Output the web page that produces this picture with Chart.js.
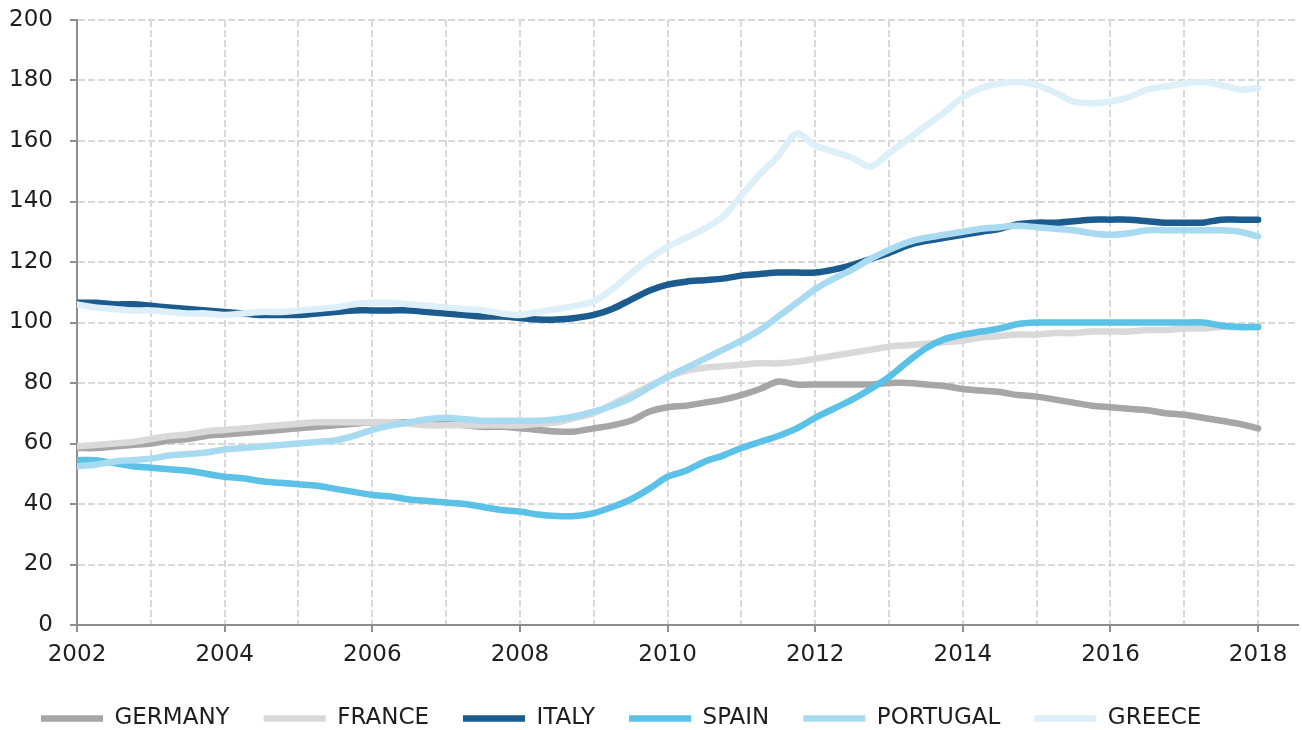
<!DOCTYPE html>
<html>
<head>
<meta charset="utf-8">
<script src="https://cdn.jsdelivr.net/npm/chart.js@4.4.1/dist/chart.umd.min.js"></script>
<style>
    html, body { margin: 0; padding: 0; background: #fff; overflow: hidden; }
    #wrap { width: 1302px; height: 730px; overflow: hidden; }
</style>
</head>
<body>
<div id="wrap"><canvas id="debtChart" width="1302" height="740"></canvas></div>
<script>
// quarterly values, 2002 Q1 .. 2018 Q1
var germany = [
    58.5, 58.5, 59, 59.5,   60, 61, 61.5, 62.5,   63, 63.5, 64, 64.5,   65, 65.5, 66, 66.5,
    67, 67, 67, 66.5,       66.5, 66, 65.5, 65.5, 65, 64.5, 64, 64,   65, 66, 67.5, 70.5,
    72, 72.5, 73.5, 74.5,   76, 78, 80.5, 79.5,   79.5, 79.5, 79.5, 79.5, 80, 80, 79.5, 79,
    78, 77.5, 77, 76,       75.5, 74.5, 73.5, 72.5, 72, 71.5, 71, 70,  69.5, 68.5, 67.5, 66.5,
    65
];
var france = [
    59, 59.5, 60, 60.5,     61.5, 62.5, 63, 64,   64.5, 65, 65.5, 66,   66.5, 67, 67, 67,
    67, 67, 66.5, 66,       66, 66, 66, 66,       66, 66.5, 67, 68.5,   70, 73, 76, 79,
    82, 84, 85, 85.5,       86, 86.5, 86.5, 87,   88, 89, 90, 91,       92, 92.5, 93, 93.5,
    94, 95, 95.5, 96,       96, 96.5, 96.5, 97,   97, 97, 97.5, 97.5,   98, 98, 98.5, 98.5,
    98.5
];
var italy = [
    106.5, 106.5, 106, 106, 105.5, 105, 104.5, 104, 103.5, 103, 102.5, 102.5, 102.5, 103, 103.5, 104,
    104, 104, 104, 103.5,   103, 102.5, 102, 102, 101.5, 101, 101, 101.5, 102.5, 104.5, 107.5, 110.5,
    112.5, 113.5, 114, 114.5, 115.5, 116, 116.5, 116.5, 116.5, 117.5, 119, 121, 123, 125.5, 127, 128,
    129, 130, 131, 132.5,   133, 133, 133.5, 134, 134, 134, 133.5, 133, 133, 133, 134, 134,
    134
];
var spain = [
    54.5, 54.5, 53.5, 52.5, 52, 51.5, 51, 50,     49, 48.5, 47.5, 47,   46.5, 46, 45, 44,
    43, 42.5, 41.5, 41,     40.5, 40, 39, 38,     37.5, 36.5, 36, 36,   37, 39, 41.5, 45,
    49, 51, 54, 56,         58.5, 60.5, 62.5, 65, 68.5, 71.5, 74.5, 78, 82, 87, 91.5, 94.5,
    96, 97, 98, 99.5,       100, 100, 100, 100,   100, 100, 100, 100,   100, 100, 99, 98.5,
    98.5
];
var portugal = [
    52.5, 53, 54, 54.5,     55, 56, 56.5, 57,     58, 58.5, 59, 59.5,   60, 60.5, 61, 62.5,
    64.5, 66, 67, 68,       68.5, 68, 67.5, 67.5, 67.5, 67.5, 68, 69,   70.5, 72.5, 75, 78.5,
    82, 85, 88, 91,         94, 97.5, 102, 106.5, 111, 114.5, 117.5, 121, 124, 126.5, 128, 129,
    130, 131, 131.5, 132,   131.5, 131, 130.5, 129.5, 129, 129.5, 130.5, 130.5, 130.5, 130.5, 130.5, 130,
    128.5
];
var greece = [
    106, 105, 104.5, 104,   104, 103.5, 103, 103, 102.5, 103, 103.5, 103.5, 104, 104.5, 105, 106,
    106.5, 106.5, 106, 105.5, 105, 104.5, 104, 103, 102.5, 103.5, 104.5, 105.5, 107, 111, 116, 121,
    125, 128, 131, 135,     142, 149, 155, 162.5, 158.5, 156.5, 154.5, 151.5, 156, 160.5, 165, 169.5,
    174.5, 177.5, 179, 179.5, 178.5, 176, 173, 172.5, 173, 174.5, 177, 178, 179, 179.5, 178.5, 177,
    177.5
];
var startYear = 2002;
var quarters = germany.map(function (_, i) { return startYear + i / 4; });

var axisGrey = '#8e8e8e';
var gridGrey = '#d9d9d9';

Chart.defaults.font.family = '"DejaVu Sans", Verdana, sans-serif';
Chart.defaults.font.size = 23;
Chart.defaults.color = '#1e1e1e';

function series(label, values, color) {
    return {
        label: label,
        data: values.map(function (v, i) { return {x: quarters[i], y: v}; }),
        borderColor: color,
        backgroundColor: color,
        borderWidth: 6.5,
        borderCapStyle: 'round',
        borderJoinStyle: 'round',
        pointRadius: 0,
        tension: 0.3,
        fill: false
    };
}

// first dataset is painted last, so GREECE ends up on top
var debtChart = new Chart(document.getElementById('debtChart').getContext('2d'), {
    type: 'line',
    data: {
        datasets: [
            series('GREECE', greece, '#ddeff9'),
            series('PORTUGAL', portugal, '#a8dbf2'),
            series('SPAIN', spain, '#5bc1e7'),
            series('ITALY', italy, '#1b5b8e'),
            series('FRANCE', france, '#d9d9d9'),
            series('GERMANY', germany, '#a6a6a6')
        ]
    },
    options: {
        responsive: false,
        animation: false,
        layout: {
            padding: {top: 20, right: 4, left: 7, bottom: 0}
        },
        plugins: {
            tooltip: {enabled: false},
            legend: {
                position: 'bottom',
                align: 'start',
                reverse: true,
                labels: {
                    usePointStyle: true,
                    pointStyle: 'line',
                    pointStyleWidth: 62,
                    boxWidth: 62,
                    boxHeight: 7,
                    padding: 34,
                    font: {size: 23}
                }
            }
        },
        scales: {
            x: {
                type: 'linear',
                min: 2002,
                max: 2018.54,
                afterFit: function (scale) { scale.height = 48; },
                ticks: {
                    stepSize: 1,
                    autoSkip: false,
                    maxRotation: 0,
                    includeBounds: false,
                    padding: 9,
                    callback: function (v) { return v % 2 === 0 ? String(v) : ''; }
                },
                grid: {
                    color: gridGrey,
                    lineWidth: 2,
                    tickLength: 7,
                    tickWidth: 2,
                    tickColor: function (ctx) {
                        return ctx.tick && ctx.tick.value % 2 === 0 ? axisGrey : 'rgba(0,0,0,0)';
                    }
                },
                border: {color: axisGrey, width: 2, dash: [7, 3]}
            },
            y: {
                min: 0,
                max: 200,
                afterFit: function (scale) {
                    scale.width = 70;
                    // label padding would otherwise push the plot top down
                    scale.paddingTop = 0;
                    scale.paddingBottom = 0;
                },
                ticks: {stepSize: 20, padding: 17},
                grid: {
                    color: gridGrey,
                    lineWidth: 2,
                    tickLength: 7,
                    tickWidth: 2,
                    tickColor: axisGrey
                },
                border: {color: axisGrey, width: 2, dash: [7, 3]}
            }
        }
    }
});
</script>
</body>
</html>
